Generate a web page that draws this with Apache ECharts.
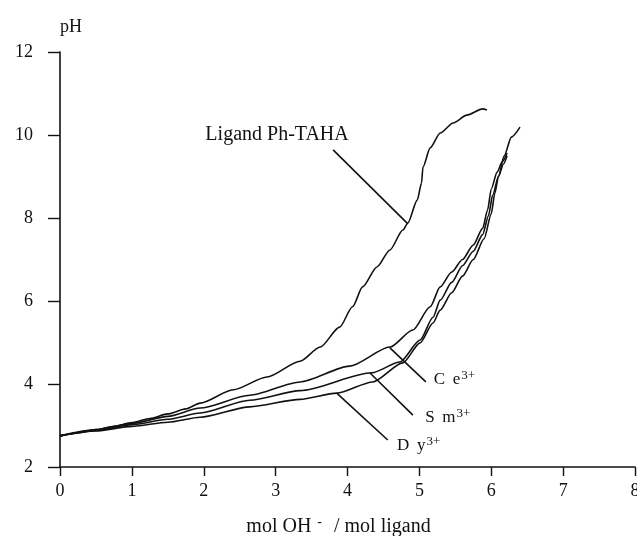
<!DOCTYPE html>
<html>
<head>
<meta charset="utf-8">
<script src="https://cdn.jsdelivr.net/npm/echarts@6/dist/echarts.min.js"></script>
<style>
  html, body { margin: 0; padding: 0; background: #fff; }
  #main { width: 637px; height: 536px; }
</style>
</head>
<body>
<div id="main"></div>
<script>
// titration curves, pH vs mol OH- / mol ligand
var ligandX = [0, 0.25, 0.5, 0.75, 1.0, 1.25, 1.5, 1.75, 1.95, 2.41, 2.88, 3.34, 3.62, 3.89, 4.07, 4.21, 4.41, 4.59, 4.77, 4.84, 4.97, 5.03, 5.05, 5.15, 5.29, 5.47, 5.66, 5.88, 5.94];
var ligandPH = [2.75, 2.82, 2.9, 2.98, 3.07, 3.17, 3.28, 3.40, 3.54, 3.86, 4.17, 4.55, 4.89, 5.37, 5.86, 6.34, 6.82, 7.23, 7.71, 7.88, 8.43, 8.84, 9.23, 9.69, 10.05, 10.29, 10.48, 10.63, 10.60];

var ceX = [0, 0.5, 1.0, 1.5, 1.95, 2.64, 3.34, 4.03, 4.59, 4.91, 5.15, 5.29, 5.45, 5.6, 5.75, 5.88, 5.95, 6.0, 6.08, 6.15, 6.22];
var cePH = [2.75, 2.9, 3.05, 3.22, 3.42, 3.73, 4.05, 4.43, 4.89, 5.30, 5.86, 6.34, 6.7, 7.0, 7.35, 7.75, 8.2, 8.7, 9.1, 9.35, 9.57];

var smX = [0, 0.5, 1.0, 1.5, 1.95, 2.64, 3.34, 4.34, 4.73, 5.01, 5.19, 5.29, 5.45, 5.6, 5.75, 5.88, 5.96, 6.02, 6.1, 6.17, 6.22];
var smPH = [2.75, 2.88, 3.02, 3.15, 3.30, 3.61, 3.84, 4.27, 4.53, 5.06, 5.61, 6.02, 6.45, 6.85, 7.2, 7.6, 8.05, 8.55, 9.0, 9.3, 9.5];

var dyX = [0, 0.5, 1.0, 1.5, 1.95, 2.64, 3.34, 3.85, 4.35, 4.77, 5.01, 5.19, 5.29, 5.45, 5.6, 5.75, 5.9, 6.0, 6.05, 6.1, 6.18, 6.28, 6.4];
var dyPH = [2.75, 2.87, 2.98, 3.08, 3.20, 3.45, 3.63, 3.78, 4.05, 4.51, 4.99, 5.47, 5.78, 6.2, 6.6, 7.0, 7.5, 8.1, 8.6, 9.0, 9.5, 9.95, 10.19];

var seriesNames = ["Ligand Ph-TAHA", "Ce", "Sm", "Dy"];
// leader lines [x1, y1, x2, y2] and label anchors [x, y] in data units
var leaders = [[3.80, 9.64, 4.84, 7.86], [4.59, 4.87, 5.09, 4.05], [4.31, 4.27, 4.91, 3.25], [3.85, 3.78, 4.56, 2.65]];
var labelAt = [[3.02, 10.0], [5.20, 4.12], [5.08, 3.22], [4.69, 2.53]];
var labelText = ["Ligand Ph-TAHA", "{a|C\u2009 e}{s|3+}", "{a|S\u2009 m}{s|3+}", "{a|D\u2009 y}{s|3+}"];

var serif = "Liberation Serif";
var ink = "#111";

function pairs(xs, ys) {
    return xs.map(function (x, i) { return [x, ys[i]]; });
}

var curves = [pairs(ligandX, ligandPH), pairs(ceX, cePH), pairs(smX, smPH), pairs(dyX, dyPH)];

var series = curves.map(function (d, i) {
    var l = leaders[i];
    return {
        name: seriesNames[i],
        type: "line",
        data: d,
        showSymbol: false,
        smooth: 0.25,
        smoothMonotone: "x",
        lineStyle: { color: ink, width: 1.6 },
        silent: true,
        markLine: {
            silent: true,
            symbol: "none",
            label: { show: false },
            lineStyle: { color: ink, width: 1.6, type: "solid" },
            data: [[{ coord: [l[0], l[1]] }, { coord: [l[2], l[3]] }]]
        },
        markPoint: {
            silent: true,
            symbol: "circle",
            symbolSize: 0,
            data: [{ coord: labelAt[i] }],
            label: {
                show: true,
                position: i === 0 ? "inside" : "right",
                distance: 0,
                formatter: labelText[i],
                color: ink,
                fontFamily: serif,
                fontSize: 20,
                rich: {
                    a: { fontFamily: serif, fontSize: 17, color: ink, verticalAlign: "bottom" },
                    s: { fontFamily: serif, fontSize: 13, color: ink, verticalAlign: "bottom", padding: [0, 0, 6, 1] }
                }
            }
        }
    };
});

var myChart = echarts.init(document.getElementById("main"));
var option = {
    backgroundColor: "#fff",
    animation: false,
    grid: { left: 60, right: 2, top: 52, bottom: 69, outerBoundsMode: "none", containLabel: false },
    xAxis: {
        type: "value",
        min: 0,
        max: 8,
        interval: 1,
        name: "mol OH{s|-}  / mol ligand",
        nameLocation: "middle",
        nameGap: 48,
        nameTextStyle: {
            fontFamily: serif,
            fontSize: 20,
            color: ink,
            padding: [0, 18, 0, 0],
            rich: {
                s: { fontFamily: serif, fontSize: 14, color: ink, verticalAlign: "bottom", padding: [0, 2, 10, 6] }
            }
        },
        axisLine: { lineStyle: { color: ink, width: 1.6 } },
        axisTick: { inside: false, length: 9, lineStyle: { color: ink, width: 1.4 } },
        axisLabel: { margin: 15, fontFamily: serif, fontSize: 18, color: ink },
        splitLine: { show: false }
    },
    yAxis: {
        type: "value",
        min: 2,
        max: 12,
        interval: 2,
        name: "pH",
        nameLocation: "end",
        nameGap: 16,
        nameTextStyle: { fontFamily: serif, fontSize: 18, color: ink, align: "left" },
        axisLine: { show: true, lineStyle: { color: ink, width: 1.6 } },
        axisTick: { show: true, inside: false, length: 12, lineStyle: { color: ink, width: 1.4 } },
        axisLabel: { margin: 27, fontFamily: serif, fontSize: 18, color: ink },
        splitLine: { show: false }
    },
    series: series
};
myChart.setOption(option);
</script>
</body>
</html>
